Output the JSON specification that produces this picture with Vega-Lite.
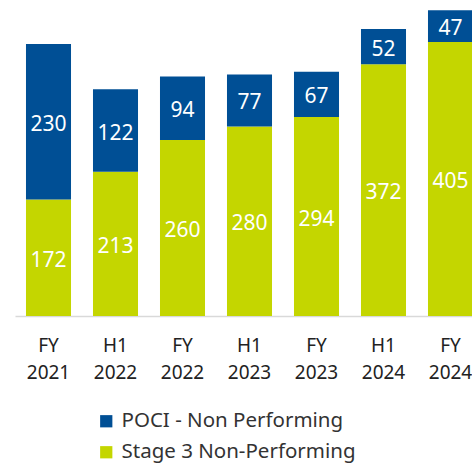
{
  "$schema": "https://vega.github.io/schema/vega-lite/v6.json",
  "width": 457,
  "height": 316,
  "autosize": {"type": "none"},
  "padding": {"left": 15, "top": 0, "right": 0, "bottom": 149},
  "config": {"view": {"stroke": null}, "font": "Noto Sans"},
  "data": {
    "values": [
      {"period": "FY 2021", "series": "Stage 3 Non-Performing", "value": 172, "order": 1},
      {"period": "FY 2021", "series": "POCI - Non Performing", "value": 230, "order": 2},
      {"period": "H1 2022", "series": "Stage 3 Non-Performing", "value": 213, "order": 1},
      {"period": "H1 2022", "series": "POCI - Non Performing", "value": 122, "order": 2},
      {"period": "FY 2022", "series": "Stage 3 Non-Performing", "value": 260, "order": 1},
      {"period": "FY 2022", "series": "POCI - Non Performing", "value": 94, "order": 2},
      {"period": "H1 2023", "series": "Stage 3 Non-Performing", "value": 280, "order": 1},
      {"period": "H1 2023", "series": "POCI - Non Performing", "value": 77, "order": 2},
      {"period": "FY 2023", "series": "Stage 3 Non-Performing", "value": 294, "order": 1},
      {"period": "FY 2023", "series": "POCI - Non Performing", "value": 67, "order": 2},
      {"period": "H1 2024", "series": "Stage 3 Non-Performing", "value": 372, "order": 1},
      {"period": "H1 2024", "series": "POCI - Non Performing", "value": 52, "order": 2},
      {"period": "FY 2024", "series": "Stage 3 Non-Performing", "value": 405, "order": 1},
      {"period": "FY 2024", "series": "POCI - Non Performing", "value": 47, "order": 2}
    ]
  },
  "transform": [
    {"stack": "value", "groupby": ["period"], "sort": [{"field": "order"}], "as": ["v0", "v1"]},
    {"calculate": "(datum.v0 + datum.v1) / 2", "as": "vmid"}
  ],
  "encoding": {
    "x": {
      "field": "period",
      "type": "nominal",
      "sort": null,
      "scale": {"range": [0, 469], "paddingInner": 0.328, "paddingOuter": 0.164},
      "axis": {
        "title": null,
        "labelAngle": 0,
        "labelExpr": "split(datum.label, ' ')",
        "ticks": false,
        "domainColor": "#d9d9d9",
        "domainWidth": 1.5,
        "labelFontSize": 19,
        "labelColor": "#222222",
        "labelPadding": 20,
        "labelLineHeight": 27
      }
    }
  },
  "layer": [
    {
      "mark": {"type": "bar"},
      "encoding": {
        "y": {"field": "v0", "type": "quantitative", "scale": {"domain": [0, 467], "nice": false}, "axis": null},
        "y2": {"field": "v1"},
        "color": {
          "field": "series",
          "type": "nominal",
          "scale": {
            "domain": ["POCI - Non Performing", "Stage 3 Non-Performing"],
            "range": ["#004f95", "#c4d600"]
          },
          "legend": {
            "title": null,
            "orient": "none",
            "legendX": 81,
            "legendY": 411,
            "padding": 0,
            "direction": "vertical",
            "symbolType": "square",
            "symbolSize": 150,
            "symbolStrokeWidth": 0,
            "labelFontSize": 20.5,
            "labelColor": "#333333",
            "labelOffset": 5,
            "rowPadding": 10,
            "labelLimit": 400
          }
        }
      }
    },
    {
      "mark": {"type": "text", "color": "white", "fontSize": 21, "baseline": "middle", "dy": 3},
      "encoding": {
        "y": {"field": "vmid", "type": "quantitative"},
        "text": {"field": "value", "type": "quantitative"}
      }
    }
  ]
}
